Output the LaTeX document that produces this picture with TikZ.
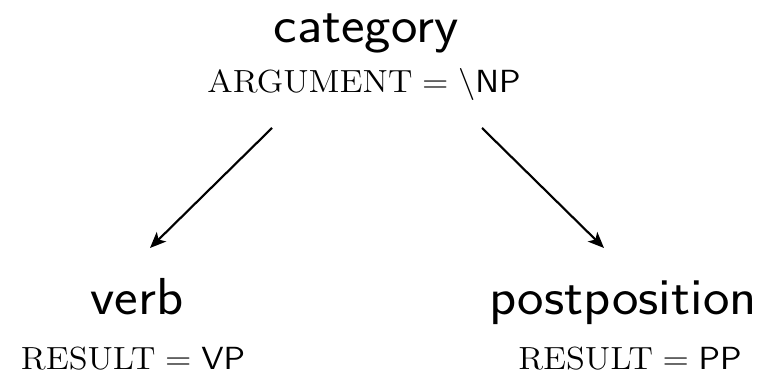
\documentclass[tikz,border=0pt]{standalone}
\usetikzlibrary{calc,arrows.meta}

\newcommand{\catwide}[1]{\scalebox{1.08}[1]{#1}}

\begin{document}
\begin{tikzpicture}[
    x=0.375pt, y=-0.375pt,
    cat word/.style={font=\sffamily\fontsize{19.5}{23}\selectfont, inner sep=1pt, anchor=base},
    cat feat/.style={font=\fontsize{12.4}{15}\selectfont, inner sep=1pt, anchor=base},
    cat arrow/.style={draw, line width=0.8pt, -{Stealth[length=6pt, width=5pt, inset=1.5pt]}},
]
  \useasboundingbox (0,0) rectangle (767,376);

  % Categorias.
  \node[cat word] (cat-word) at (366,43) {\catwide{category}};
  \node[cat feat] (cat-feat) at (364,93) {\catwide{$\mathrm{ARGUMENT} = \backslash\mathsf{NP}$}};
  \node[cat word] (verb-word) at (137,315) {\catwide{verb}};
  \node[cat feat] (verb-feat) at (133,370) {\catwide{$\mathrm{RESULT} = \mathsf{VP}$}};
  \node[cat word] (post-word) at (623,315) {\catwide{postposition}};
  \node[cat feat] (post-feat) at (630,370) {\catwide{$\mathrm{RESULT} = \mathsf{PP}$}};

  % Setas.
  \draw[cat arrow] ($(cat-feat.base)+(-92,35)$) -- ($(verb-word.base)+(13,-67)$);
  \draw[cat arrow] ($(cat-feat.base)+(118,35)$) -- ($(post-word.base)+(-19,-67)$);
\end{tikzpicture}
\end{document}
